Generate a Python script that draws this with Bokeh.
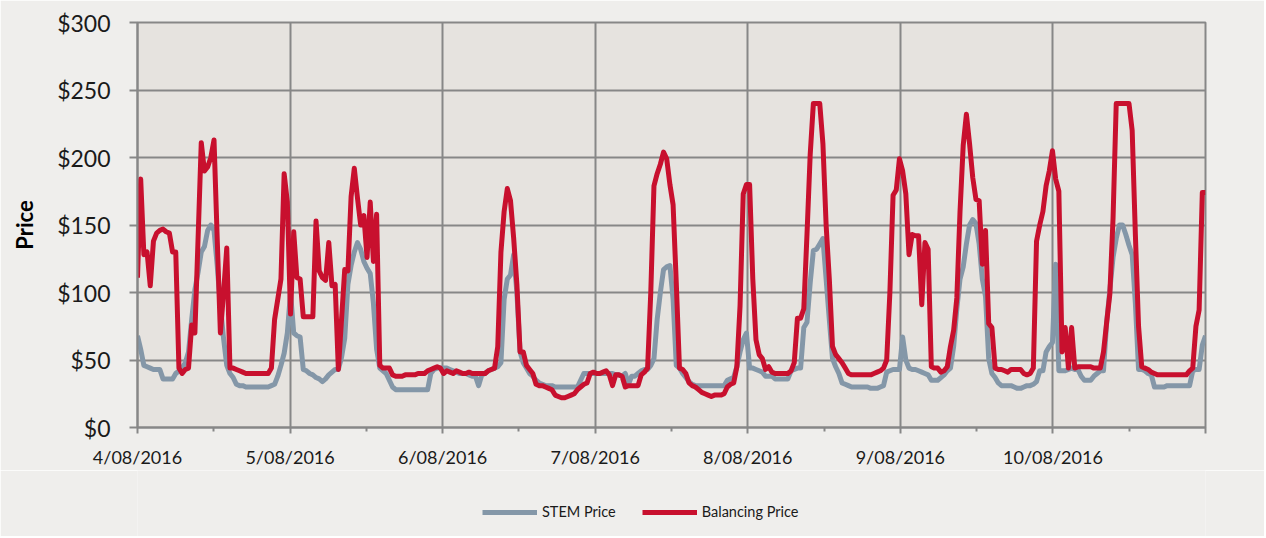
from bokeh.plotting import figure
from bokeh.layouts import column
from bokeh.models import (ColumnDataSource, Range1d, FixedTicker, Legend, LegendItem)
from bokeh.embed import file_html
from bokeh.resources import INLINE

# ---- data (half-hourly prices, 4/08/2016 .. 10/08/2016) ----
day_labels = ["4/08/2016", "5/08/2016", "6/08/2016", "7/08/2016",
              "8/08/2016", "9/08/2016", "10/08/2016"]
y_ticks = [0, 50, 100, 150, 200, 250, 300]
y_tick_labels = ["$0", "$50", "$100", "$150", "$200", "$250", "$300"]
series_names = ["STEM Price", "Balancing Price"]

stem_price = (
    # 4/08
    [68, 58, 46, 45, 44, 43, 43, 43, 36, 36, 36, 36, 40, 42, 44, 48,
     56, 80, 102, 115, 130, 134, 146, 150, 146, 120, 90, 66, 46, 40, 37, 32,
     31, 31, 30, 30, 30, 30, 30, 30, 30, 30, 31, 32, 38, 46, 55, 70]
    # 5/08
    + [100, 70, 68, 67, 43, 42, 40, 39, 37, 36, 34, 36, 39, 41, 43, 43,
       52, 66, 106, 120, 130, 137, 132, 123, 118, 114, 92, 58, 44, 42, 40, 35,
       30, 28, 28, 28, 28, 28, 28, 28, 28, 28, 28, 28, 40, 43, 44, 44]
    # 6/08
    + [44, 44, 43, 42, 41, 40, 40, 40, 39, 38, 38, 31, 39, 40, 42, 43,
       44, 45, 48, 95, 110, 113, 128, 100, 56, 48, 44, 40, 38, 35, 33, 32,
       31, 31, 31, 30, 30, 30, 30, 30, 30, 30, 30, 35, 40, 40, 40, 40]
    # 7/08
    + [40, 40, 40, 40, 40, 40, 39, 39, 38, 40, 32, 38, 38, 40, 42, 43,
       43, 46, 51, 80, 100, 117, 119, 120, 95, 46, 44, 40, 37, 34, 32, 31,
       31, 31, 31, 31, 31, 31, 31, 31, 31, 35, 36, 37, 45, 56, 65, 70]
    # 8/08
    + [44, 44, 43, 42, 41, 38, 38, 38, 36, 36, 36, 36, 36, 42, 43, 44,
       44, 74, 78, 107, 131, 132, 136, 140, 110, 80, 51, 45, 40, 33, 32, 31,
       30, 30, 30, 30, 30, 30, 29, 29, 29, 30, 31, 41, 42, 43, 43, 43]
    # 9/08
    + [67, 50, 44, 43, 43, 42, 41, 40, 39, 35, 35, 35, 37, 39, 42, 44,
       60, 88, 110, 119, 136, 150, 154, 151, 136, 110, 97, 51, 40, 37, 33, 31,
       31, 31, 31, 30, 29, 29, 30, 31, 31, 32, 34, 42, 42, 56, 60, 63]
    # 10/08
    + [121, 42, 42, 42, 43, 44, 43, 43, 38, 35, 35, 35, 38, 40, 42, 42,
       78, 102, 126, 140, 150, 150, 143, 135, 128, 92, 43, 43, 42, 40, 39, 30,
       30, 30, 30, 31, 31, 31, 31, 31, 31, 31, 31, 42, 43, 43, 61, 68]
)

balancing_price = (
    # 4/08
    [111, 184, 128, 130, 105, 138, 144, 146, 147, 145, 144, 130, 130, 44, 40, 43,
     44, 76, 70, 140, 211, 190, 193, 200, 213, 140, 70, 100, 133, 44, 44, 43,
     42, 41, 40, 40, 40, 40, 40, 40, 40, 40, 44, 80, 95, 110, 188, 167]
    # 5/08
    + [84, 145, 111, 110, 82, 82, 82, 82, 153, 116, 111, 109, 137, 105, 106, 43,
       80, 117, 116, 171, 192, 170, 150, 157, 126, 167, 123, 158, 46, 44, 44, 44,
       39, 38, 38, 38, 39, 39, 39, 39, 40, 40, 40, 42, 43, 44, 45, 44]
    # 6/08
    + [40, 42, 41, 40, 42, 41, 40, 40, 41, 40, 40, 40, 40, 40, 42, 43,
       44, 60, 130, 160, 177, 168, 140, 106, 56, 56, 46, 43, 40, 32, 31, 31,
       30, 29, 28, 24, 23, 22, 22, 23, 24, 25, 28, 30, 32, 33, 40, 41]
    # 7/08
    + [40, 40, 41, 42, 39, 31, 39, 39, 38, 30, 31, 31, 31, 31, 39, 41,
       44, 100, 179, 188, 195, 204, 199, 180, 165, 107, 44, 43, 40, 33, 31, 30,
       28, 26, 25, 24, 23, 24, 24, 24, 25, 30, 32, 33, 45, 90, 173, 180]
    # 8/08
    + [180, 110, 65, 54, 51, 43, 45, 41, 40, 40, 40, 40, 40, 42, 48, 81,
       81, 88, 143, 202, 240, 240, 240, 210, 150, 110, 60, 54, 51, 48, 44, 40,
       39, 39, 39, 39, 39, 39, 39, 40, 41, 42, 44, 50, 100, 172, 176, 199]
    # 9/08
    + [190, 173, 128, 143, 142, 142, 91, 137, 132, 45, 44, 44, 41, 42, 45, 60,
       72, 96, 160, 209, 232, 210, 185, 169, 168, 121, 146, 77, 74, 44, 43, 43,
       42, 41, 43, 43, 43, 43, 40, 39, 40, 44, 138, 150, 160, 179, 190, 205]
    # 10/08
    + [184, 175, 56, 74, 44, 74, 44, 45, 45, 45, 45, 45, 44, 44, 44, 56,
       78, 99, 155, 240, 240, 240, 240, 240, 220, 143, 75, 45, 44, 43, 41, 40,
       39, 39, 39, 39, 39, 39, 39, 39, 39, 39, 42, 44, 75, 87, 174, 174]
)

n = len(stem_price)
x = [i * 7 / (n - 1) for i in range(n)]
src = ColumnDataSource(data=dict(x=x, stem=stem_price, bal=balancing_price))

FONT = "Lato"
GRID = "#878787"
BG = "#efeeec"
STEM_C = "#8497a8"
BAL_C = "#c8102e"

W = 1264
H_MAIN = 470
H_LEG = 66
FRAME_L = 137
p = figure(width=W, height=H_MAIN, output_backend="svg", toolbar_location=None,
           x_range=Range1d(0, 7), y_range=Range1d(0, 300),
           min_border_left=FRAME_L, min_border_right=W - 1205, min_border_top=22,
           min_border_bottom=H_MAIN - 438)
p.border_fill_color = BG
p.background_fill_color = "#e6e3df"
p.outline_line_color = GRID
p.outline_line_width = 2

# axes
p.xaxis.ticker = FixedTicker(ticks=list(range(8)), minor_ticks=[i + 0.5 for i in range(7)])
p.xaxis.major_label_overrides = {i: lab for i, lab in enumerate(day_labels)} | {7: ""}
p.yaxis.ticker = FixedTicker(ticks=y_ticks)
p.yaxis.major_label_overrides = {v: lab for v, lab in zip(y_ticks, y_tick_labels)}

for ax in (p.xaxis[0], p.yaxis[0]):
    ax.axis_line_color = GRID
    ax.axis_line_width = 2
    ax.major_tick_line_color = GRID
    ax.major_tick_line_width = 2
    ax.major_tick_in = 0
    ax.major_label_text_font = FONT
    ax.major_label_text_color = "#1a1a1a"

p.xaxis.major_tick_out = 6
p.xaxis.minor_tick_out = 4
p.xaxis.minor_tick_in = 0
p.xaxis.minor_tick_line_color = GRID
p.xaxis.minor_tick_line_width = 2
p.xaxis.major_label_text_font_size = "18px"
p.xaxis.major_label_standoff = 12

p.yaxis.major_tick_out = 8
p.yaxis.minor_tick_line_color = None
p.yaxis.major_label_text_font_size = "23px"
p.yaxis.major_label_standoff = 19
p.yaxis.axis_label = "Price"
p.yaxis.axis_label_text_font = FONT
p.yaxis.axis_label_text_font_size = "22px"
p.yaxis.axis_label_text_font_style = "bold"
p.yaxis.axis_label_text_color = "#000000"
p.yaxis.axis_label_standoff = 16

p.xgrid.ticker = FixedTicker(ticks=list(range(8)))
p.ygrid.ticker = FixedTicker(ticks=y_ticks)
for g in (p.xgrid[0], p.ygrid[0]):
    g.grid_line_color = GRID
    g.grid_line_width = 2

p.line("x", "stem", source=src, line_color=STEM_C, line_width=5, line_join="round")
p.line("x", "bal", source=src, line_color=BAL_C, line_width=5, line_join="round")

# ---- legend strip below the chart ----
lp = figure(width=W, height=H_LEG, output_backend="svg", toolbar_location=None,
            x_axis_type=None, y_axis_type=None, min_border=0,
            x_range=Range1d(0, 1), y_range=Range1d(0, 1))
lp.border_fill_color = BG
lp.background_fill_color = BG
lp.outline_line_color = None
lp.xgrid.visible = False
lp.ygrid.visible = False
# off-range samples: only used to draw the legend swatches
l1 = lp.line(x=[-5, -4], y=[-5, -5], line_color=STEM_C, line_width=5)
l2 = lp.line(x=[-5, -4], y=[-5, -5], line_color=BAL_C, line_width=5)
legend = Legend(items=[LegendItem(label=series_names[0], renderers=[l1]),
                       LegendItem(label=series_names[1], renderers=[l2])],
                orientation="horizontal", location=(482 - FRAME_L, 16),
                glyph_width=55, glyph_height=16, label_standoff=5, spacing=26,
                padding=0, margin=0, border_line_color=None,
                background_fill_alpha=0,
                label_text_font=FONT, label_text_font_size="14.5px",
                label_text_color="#1a1a1a")
lp.add_layout(legend)

layout = column(p, lp, spacing=0)
open("out.html", "w").write(file_html(layout, INLINE))
